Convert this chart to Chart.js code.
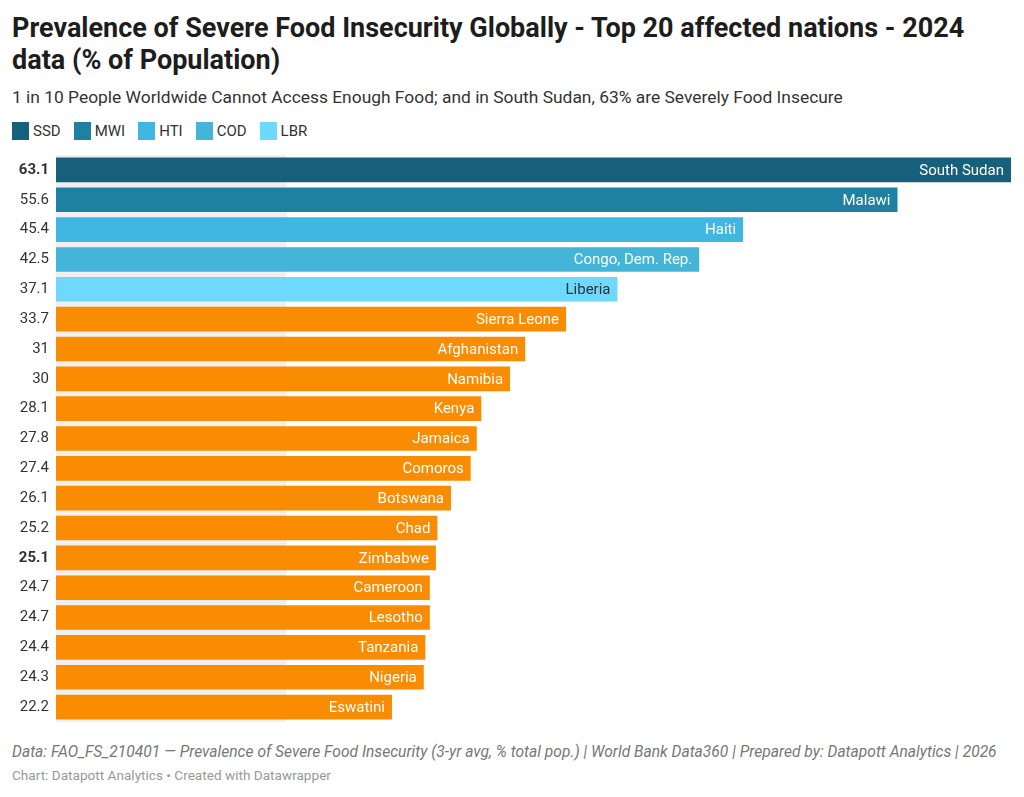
<!DOCTYPE html>
<html>
<head>
<meta charset="utf-8">
<script src="https://cdn.jsdelivr.net/npm/chart.js@4.4.1/dist/chart.umd.min.js"></script>
<style>
  html,body{ margin:0; padding:0; background:#fff; }
  body{ width:1024px; height:797px; position:relative; overflow:hidden; font-family:Roboto, "Noto Sans", sans-serif; color:#222; }
  #title{ position:absolute; left:12px; top:12px; width:985px; font-size:27px; font-weight:700; line-height:32px; color:#1d1d1d; }
  #subtitle{ position:absolute; left:12px; top:87px; font-size:17.4px; color:#333; }
  #legend{ position:absolute; left:12px; top:122px; display:flex; font-size:15px; color:#333; }
  #legend .item{ display:flex; align-items:center; margin-right:13px; }
  #legend .sw{ width:17px; height:18px; margin-right:4px; }
  #chart-wrap{ position:absolute; left:0; top:155px; width:1024px; height:567px; }
  #source{ position:absolute; left:12px; top:743px; font-size:15.6px; font-style:italic; color:#777; }
  #credit{ position:absolute; left:12px; top:767px; font-size:13.6px; color:#999; }
</style>
</head>
<body>
<div id="title">Prevalence of Severe Food Insecurity Globally - Top 20 affected nations - 2024 data (% of Population)</div>
<div id="subtitle">1 in 10 People Worldwide Cannot Access Enough Food; and in South Sudan, 63% are Severely Food Insecure</div>
<div id="legend"></div>
<div id="chart-wrap"><canvas id="bars"></canvas></div>
<div id="source">Data: FAO_FS_210401 — Prevalence of Severe Food Insecurity (3-yr avg, % total pop.) | World Bank Data360 | Prepared by: Datapott Analytics | 2026</div>
<div id="credit">Chart: Datapott Analytics • Created with Datawrapper</div>

<script>
/* ===== Data ===== */
const countries = ['South Sudan','Malawi','Haiti','Congo, Dem. Rep.','Liberia','Sierra Leone','Afghanistan','Namibia','Kenya','Jamaica','Comoros','Botswana','Chad','Zimbabwe','Cameroon','Lesotho','Tanzania','Nigeria','Eswatini'];
const values    = [63.1, 55.6, 45.4, 42.5, 37.1, 33.7, 31, 30, 28.1, 27.8, 27.4, 26.1, 25.2, 25.1, 24.7, 24.7, 24.4, 24.3, 22.2];
const valueLabels = ['63.1','55.6','45.4','42.5','37.1','33.7','31','30','28.1','27.8','27.4','26.1','25.2','25.1','24.7','24.7','24.4','24.3','22.2'];
const boldRows  = [0, 13];
const bandValues = [15.2,15.2,15.2,15.2,15.2,15.2,15.2,15.2,15.2,15.2,15.2,15.2,15.2,15.2,15.2,15.2,15.2,15.2,15.2];
const legendCodes  = ['SSD','MWI','HTI','COD','LBR'];
const legendColors = ['#17607b','#1e81a2','#40b6e2','#42b5d9','#6dd9fd'];
const ORANGE = '#f98c00';

/* ===== Helpers ===== */
const $ = (id) => document.getElementById(id);
const barColors = values.map((v,i) => legendColors[i] || ORANGE);
const labelColors = values.map((v,i) => i === 4 ? '#333' : '#fff');

/* ===== Legend ===== */
legendCodes.forEach((code,i) => {
  const it = document.createElement('div'); it.className = 'item';
  it.innerHTML = `<span class="sw" style="background:${legendColors[i]}"></span>${code}`;
  $('legend').appendChild(it);
});

/* ===== Bar labels inside bars ===== */
const innerLabels = {
  id: 'innerLabels',
  afterDatasetsDraw(chart){
    const meta = chart.getDatasetMeta(0);
    const ctx = chart.ctx;
    ctx.save();
    ctx.font = '15px Roboto';
    ctx.textAlign = 'right';
    ctx.textBaseline = 'middle';
    meta.data.forEach((bar,i) => {
      ctx.fillStyle = labelColors[i];
      ctx.fillText(countries[i], bar.x - 7, bar.y + 1);
    });
    ctx.restore();
  }
};

/* ===== Chart ===== */
new Chart($('bars').getContext('2d'), {
  type: 'bar',
  data: {
    labels: valueLabels,
    datasets: [
      { data: values, backgroundColor: barColors, borderWidth: 0,
        barPercentage: 0.825, categoryPercentage: 1, order: 0, grouped: false },
      { data: bandValues, backgroundColor: '#f0f0f0', borderWidth: 0,
        barPercentage: 1, categoryPercentage: 1, order: 1, grouped: false }
    ]
  },
  options: {
    indexAxis: 'y',
    responsive: true,
    maintainAspectRatio: false,
    animation: false,
    layout: { autoPadding: false, padding: { left: 0, right: 13, top: 0, bottom: 0 } },
    plugins: { legend: { display: false }, tooltip: { enabled: false } },
    scales: {
      x: { min: 0, max: 63.1, display: false },
      y: {
        grid: { display: false, drawTicks: false }, border: { display: false },
        afterFit(scale){ scale.width = 56; scale.paddingTop = 0; scale.paddingBottom = 0; },
        ticks: {
          padding: 7, color: '#333',
          font: (c) => ({ family: 'Roboto', size: 15, weight: boldRows.includes(c.index) ? 'bold' : 'normal' })
        }
      }
    }
  },
  plugins: [innerLabels]
});
</script>
</body>
</html>
